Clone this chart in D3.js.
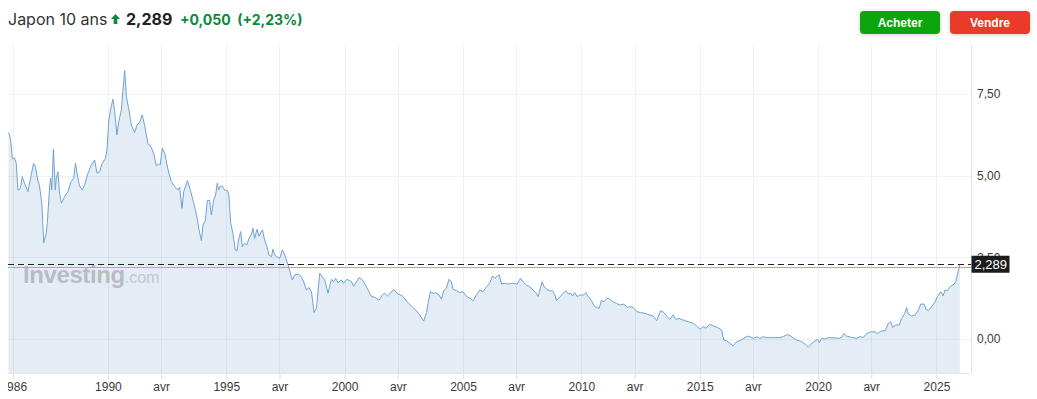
<!DOCTYPE html>
<html>
<head>
<meta charset="utf-8">
<script src="https://cdn.jsdelivr.net/npm/d3@7"></script>
<style>
  body { margin: 0; background: #fff; }
  svg { display: block; }
</style>
</head>
<body>
<div id="vis"></div>
<script>
var width = 1037,
    height = 399;

// japon 10 ans, approx monthly-ish points (decimal years)
var years = [1985.80,1985.89,1985.96,1986.06,1986.13,1986.20,1986.30,1986.38,1986.48,1986.62,1986.76,1986.86,1986.94,
  1987.04,1987.11,1987.21,1987.29,1987.40,1987.46,1987.54,1987.58,1987.63,1987.70,1987.78,1987.82,1987.89,1987.96,
  1988.04,1988.17,1988.31,1988.45,1988.55,1988.63,1988.71,1988.80,1988.92,1989.02,1989.13,1989.30,1989.44,1989.54,
  1989.65,1989.76,1989.90,1989.96,1990.04,1990.11,1990.21,1990.28,1990.38,1990.46,1990.57,1990.63,1990.71,1990.78,
  1990.89,1990.99,1991.13,1991.23,1991.34,1991.45,1991.55,1991.69,1991.83,1991.93,1992.05,1992.14,1992.21,1992.30,
  1992.40,1992.54,1992.68,1992.82,1992.96,1993.03,1993.13,1993.20,1993.36,1993.48,1993.59,1993.76,1993.85,1993.95,
  1994.02,1994.12,1994.20,1994.30,1994.37,1994.47,1994.55,1994.62,1994.68,1994.76,1994.86,1994.93,1995.05,1995.11,
  1995.19,1995.28,1995.38,1995.45,1995.52,1995.61,1995.68,1995.78,1995.87,1995.96,1996.06,1996.13,1996.20,1996.30,
  1996.38,1996.53,1996.62,1996.72,1996.80,1996.91,1996.97,1997.05,1997.14,1997.26,1997.37,1997.47,1997.61,1997.79,
  1997.89,1998.03,1998.17,1998.27,1998.39,1998.49,1998.60,1998.71,1998.81,1998.88,1998.95,1999.06,1999.16,1999.30,
  1999.44,1999.54,1999.62,1999.72,1999.86,1999.96,2000.10,2000.29,2000.38,2000.50,2000.61,2000.75,2000.92,2001.06,
  2001.13,2001.27,2001.45,2001.60,2001.69,2001.81,2001.93,2002.08,2002.21,2002.36,2002.47,2002.64,2002.82,2003.00,
  2003.17,2003.34,2003.46,2003.52,2003.63,2003.74,2003.85,2003.99,2004.09,2004.19,2004.30,2004.41,2004.51,2004.58,
  2004.73,2004.86,2005.00,2005.15,2005.29,2005.43,2005.57,2005.71,2005.85,2005.99,2006.13,2006.25,2006.34,2006.46,
  2006.53,2006.63,2006.77,2006.91,2007.09,2007.29,2007.43,2007.54,2007.68,2007.82,2007.96,2008.08,2008.17,2008.25,
  2008.34,2008.43,2008.55,2008.67,2008.78,2008.88,2008.95,2009.08,2009.23,2009.34,2009.44,2009.54,2009.63,2009.72,
  2009.82,2009.96,2010.11,2010.19,2010.29,2010.43,2010.57,2010.75,2010.85,2010.95,2011.09,2011.20,2011.34,2011.49,
  2011.63,2011.80,2011.94,2012.05,2012.19,2012.34,2012.50,2012.68,2012.87,2013.04,2013.18,2013.35,2013.49,2013.63,
  2013.74,2013.88,2013.99,2014.13,2014.30,2014.51,2014.73,2014.87,2015.01,2015.15,2015.26,2015.43,2015.57,2015.74,
  2015.92,2016.02,2016.13,2016.28,2016.41,2016.56,2016.70,2016.87,2017.01,2017.12,2017.26,2017.40,2017.54,2017.68,
  2017.89,2018.11,2018.32,2018.53,2018.70,2018.84,2018.98,2019.10,2019.31,2019.45,2019.59,2019.73,2019.87,2019.97,
  2020.05,2020.15,2020.29,2020.43,2020.64,2020.85,2021.00,2021.09,2021.21,2021.42,2021.63,2021.77,2021.91,2022.05,
  2022.22,2022.40,2022.50,2022.69,2022.83,2022.97,2023.07,2023.15,2023.29,2023.43,2023.53,2023.67,2023.74,2023.81,
  2023.96,2024.10,2024.24,2024.34,2024.48,2024.56,2024.66,2024.80,2024.94,2025.04,2025.18,2025.28,2025.36,2025.46,
  2025.57,2025.74,2025.81,2025.88,2025.95,2025.99];

var yields = [6.32,6.12,5.53,5.53,5.38,4.56,4.61,4.97,4.77,4.51,5.02,5.38,5.26,
  4.87,4.69,4.16,2.95,3.24,3.75,4.66,4.92,4.56,5.81,4.56,4.92,5.12,4.46,
  4.16,4.36,4.51,4.82,4.92,5.38,5.02,4.69,4.56,4.72,5.02,5.33,5.48,5.08,
  5.12,5.38,5.53,5.79,6.71,7.01,7.34,7.01,6.25,6.66,7.01,7.57,8.22,7.42,
  7.01,6.55,6.32,6.55,6.63,6.86,6.55,5.99,5.87,5.69,5.30,5.36,5.33,5.85,
  5.69,5.18,4.82,4.66,4.56,4.65,4.00,4.51,4.85,4.56,4.26,3.75,3.34,3.01,
  3.49,3.64,4.24,4.24,3.80,4.26,4.41,4.77,4.56,4.69,4.65,4.56,4.54,4.41,
  3.54,3.24,2.73,2.70,3.03,3.29,2.83,2.93,2.88,3.08,3.19,3.39,3.08,3.36,
  3.15,3.34,3.03,2.83,2.57,2.52,2.75,2.57,2.52,2.47,2.73,2.57,2.27,1.81,
  1.96,1.99,1.91,1.75,1.50,1.58,1.45,0.81,0.94,1.50,2.02,1.90,1.81,1.40,
  1.83,1.75,1.86,1.72,1.81,1.71,1.83,1.75,1.62,1.75,1.88,1.81,1.60,1.40,
  1.30,1.28,1.19,1.35,1.40,1.32,1.40,1.52,1.40,1.35,1.30,1.14,1.01,0.89,
  0.74,0.55,0.81,1.09,1.45,1.40,1.42,1.35,1.22,1.48,1.55,1.83,1.75,1.52,
  1.48,1.42,1.45,1.30,1.25,1.17,1.35,1.50,1.45,1.60,1.71,1.93,1.86,1.93,
  1.96,1.68,1.71,1.68,1.71,1.68,1.86,1.75,1.65,1.60,1.50,1.42,1.30,1.50,
  1.75,1.60,1.52,1.47,1.48,1.35,1.18,1.28,1.40,1.48,1.38,1.40,1.32,1.42,
  1.30,1.35,1.35,1.42,1.30,1.17,0.99,0.94,1.19,1.14,1.25,1.22,1.14,1.09,
  1.04,1.07,0.97,0.99,0.97,0.84,0.81,0.79,0.74,0.70,0.56,0.87,0.81,0.68,
  0.60,0.74,0.60,0.63,0.58,0.53,0.48,0.40,0.30,0.38,0.33,0.46,0.40,0.36,
  0.28,-0.03,-0.05,-0.13,-0.21,-0.08,-0.05,0.02,0.09,0.07,0.02,0.07,0.02,0.07,
  0.04,0.05,0.04,0.07,0.14,0.09,0.02,-0.03,-0.08,-0.15,-0.25,-0.13,-0.06,-0.01,
  -0.11,0.02,0.00,0.04,0.04,0.02,0.05,0.17,0.09,0.05,0.02,0.07,0.05,0.17,
  0.22,0.22,0.17,0.25,0.25,0.48,0.53,0.36,0.43,0.43,0.63,0.79,0.96,0.77,
  0.70,0.74,0.89,1.07,1.07,0.91,0.87,0.99,1.14,1.30,1.45,1.32,1.50,1.48,
  1.60,1.68,1.75,1.96,2.17,2.289];

var lastValue = 2.289,
    prevClose = 2.239;

var xTickDates = ["1986-01","1990-01","1992-04","1995-01","1997-04","2000-01","2002-04","2005-01",
  "2007-04","2010-01","2012-04","2015-01","2017-04","2020-01","2022-04","2025-01"];
var xTickLabels = ["1986","1990","avr","1995","avr","2000","avr","2005",
  "avr","2010","avr","2015","avr","2020","avr","2025"];
var yTicks = [0, 2.5, 5, 7.5];

function toDate(t) {
    var y = Math.floor(t),
        a = new Date(y, 0, 1),
        b = new Date(y + 1, 0, 1);
    return new Date(+a + (t - y) * (b - a));
}

var data = years.map(function(t, i) { return {date: toDate(t), value: yields[i]}; });

var fr = d3.formatLocale({decimal: ",", thousands: " ", grouping: [3], currency: ["", "€"]});
var fmt2 = fr.format(".2f"),
    fmt3 = fr.format(".3f");

// plot box (note: "top" is reserved on window)
var plotLeft = 8, plotRight = 971, plotTop = 45, plotBottom = 373;

var x = d3.scaleTime()
    .domain([toDate(1985.78), toDate(2026.46)])
    .range([plotLeft, plotRight]);

var y = d3.scaleLinear()
    .domain([-1.04, 9.0])
    .range([plotBottom, plotTop]);

var svg = d3.select('#vis').append('svg')
    .attr("width", width)
    .attr("height", height)
    .style("font-family", "'Liberation Sans', Arial, sans-serif");

var defs = svg.append("defs");
defs.append("clipPath").attr("id", "axclip")
  .append("rect").attr("x", plotLeft).attr("y", 0).attr("width", width - plotLeft).attr("height", height);
var sh = defs.append("filter").attr("id", "shadow")
    .attr("x", "-20%").attr("y", "-40%").attr("width", "140%").attr("height", "200%");
sh.append("feDropShadow").attr("dx", 0).attr("dy", 1).attr("stdDeviation", 2)
    .attr("flood-color", "#000").attr("flood-opacity", 0.18);

// header
svg.append("text")
    .attr("x", 8).attr("y", 25)
    .style("font-family", "Inter, 'Noto Sans', sans-serif")
    .attr("font-size", 16).attr("fill", "#333")
    .text("Japon 10 ans");

svg.append("path")
    .attr("d", "M115.5,14 L120,19 L117.3,19 L117.3,24 L113.7,24 L113.7,19 L111,19 Z")
    .attr("fill", "#0a8a3c");

svg.append("text")
    .attr("x", 126).attr("y", 25)
    .style("font-family", "Inter, 'Noto Sans', sans-serif")
    .attr("font-size", 16).attr("font-weight", 700).attr("fill", "#222")
    .text(fmt3(lastValue));

svg.append("text")
    .attr("x", 180).attr("y", 25)
    .style("font-family", "Inter, 'Noto Sans', sans-serif")
    .attr("font-size", 14).attr("font-weight", 700).attr("fill", "#0a8a3c")
    .attr("xml:space", "preserve")
    .text("+0,050  (+2,23%)");

// buttons
var buttons = [{label: "Acheter", x: 860, color: "#11a511"}, {label: "Vendre", x: 950, color: "#ea3a2c"}];
var btn = svg.selectAll("g.btn").data(buttons).enter().append("g").attr("class", "btn");
btn.append("rect")
    .attr("x", function(d) { return d.x; }).attr("y", 11)
    .attr("width", 80).attr("height", 23).attr("rx", 4)
    .attr("fill", function(d) { return d.color; })
    .attr("filter", "url(#shadow)");
btn.append("text")
    .attr("x", function(d) { return d.x + 40; }).attr("y", 26.5)
    .attr("text-anchor", "middle").attr("font-size", 12).attr("font-weight", 700)
    .attr("fill", "#fff")
    .text(function(d) { return d.label; });

// area + line
var area = d3.area()
    .x(function(d) { return x(d.date); })
    .y0(plotBottom)
    .y1(function(d) { return y(d.value); });

var line = d3.line()
    .x(function(d) { return x(d.date); })
    .y(function(d) { return y(d.value); });

svg.append("path").datum(data)
    .attr("d", area)
    .attr("fill", "#e4edf6");

// grid
var parseM = d3.timeParse("%Y-%m");
var tickDates = xTickDates.map(parseM);

svg.append("g").selectAll("line")
    .data(tickDates).enter().append("line")
    .attr("x1", function(d) { return Math.round(x(d)) + 0.5; })
    .attr("x2", function(d) { return Math.round(x(d)) + 0.5; })
    .attr("y1", plotTop).attr("y2", plotBottom)
    .attr("stroke", "rgba(0,0,0,0.05)");

svg.append("g").selectAll("line")
    .data(yTicks).enter().append("line")
    .attr("x1", plotLeft).attr("x2", plotRight)
    .attr("y1", function(d) { return Math.round(y(d)) + 0.5; })
    .attr("y2", function(d) { return Math.round(y(d)) + 0.5; })
    .attr("stroke", "rgba(0,0,0,0.05)");

// watermark
var wm = svg.append("text").attr("x", 23).attr("y", 283);
wm.append("tspan").attr("font-size", 24).attr("font-weight", 700)
    .attr("letter-spacing", -0.4).attr("fill", "#b9bcc1").text("Investing");
wm.append("tspan").attr("font-size", 16).attr("fill", "#c3c6ca").text(".com");

svg.append("path").datum(data)
    .attr("d", line)
    .attr("fill", "none")
    .attr("stroke", "#6fa3d0")
    .attr("stroke-width", 1);

// frame
svg.append("line")
    .attr("x1", plotRight + 0.5).attr("x2", plotRight + 0.5)
    .attr("y1", plotTop).attr("y2", plotBottom)
    .attr("stroke", "#e3e3e3");
svg.append("line")
    .attr("x1", plotLeft).attr("x2", plotRight)
    .attr("y1", plotBottom + 0.5).attr("y2", plotBottom + 0.5)
    .attr("stroke", "#e8e8e8");

// x axis
var xAxis = d3.axisBottom(x)
    .tickValues(tickDates)
    .tickSize(5)
    .tickFormat(function(d, i) { return xTickLabels[i]; });

var gx = svg.append("g")
    .attr("transform", "translate(0," + (plotBottom + 1) + ")")
    .attr("clip-path", "url(#axclip)")
    .call(xAxis);
gx.select(".domain").remove();
gx.selectAll(".tick line").attr("stroke", "#dcdcdc");
gx.selectAll(".tick text")
    .attr("y", 8)
    .attr("font-size", 12)
    .attr("font-family", "'Liberation Sans', Arial, sans-serif")
    .attr("fill", "#3a3a3a");

// y axis
var yAxis = d3.axisRight(y)
    .tickValues(yTicks)
    .tickSize(0)
    .tickFormat(fmt2);

var gy = svg.append("g")
    .attr("transform", "translate(" + plotRight + ",0)")
    .call(yAxis);
gy.select(".domain").remove();
gy.selectAll(".tick text")
    .attr("x", 6)
    .attr("font-size", 12)
    .attr("font-family", "'Liberation Sans', Arial, sans-serif")
    .attr("fill", "#3a3a3a");

// previous close + last value
var yPrev = Math.round(y(prevClose)) + 0.5,
    yLast = Math.round(y(lastValue)) + 0.5;

svg.append("line")
    .attr("x1", plotLeft).attr("x2", plotRight)
    .attr("y1", yPrev + 1).attr("y2", yPrev + 1)
    .attr("stroke", "#ec8f8f");

svg.append("line")
    .attr("x1", plotLeft).attr("x2", plotRight)
    .attr("y1", yLast).attr("y2", yLast)
    .attr("stroke", "#222")
    .attr("stroke-dasharray", "6,4");

svg.append("rect")
    .attr("x", plotRight + 0.5).attr("y", y(lastValue) - 8.5)
    .attr("width", 38).attr("height", 17)
    .attr("fill", "#1c1c1c");
svg.append("text")
    .attr("x", plotRight + 3.5).attr("y", y(lastValue))
    .attr("dy", "0.36em")
    .attr("font-size", 13)
    .attr("fill", "#fff")
    .text(fmt3(lastValue));
</script>
</body>
</html>
